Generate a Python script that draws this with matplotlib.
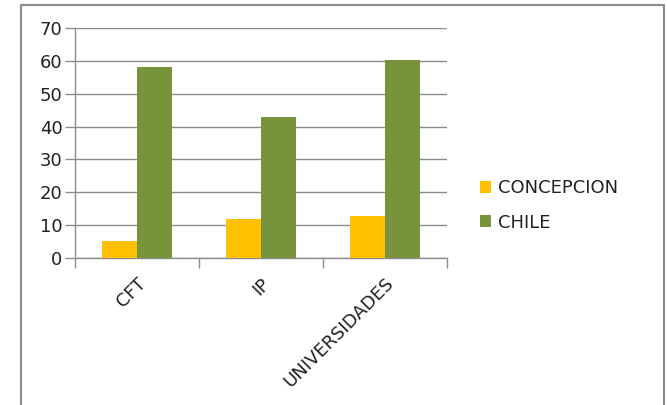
import numpy as np
import matplotlib
matplotlib.use('Agg')
import matplotlib.pyplot as plt
from matplotlib.lines import Line2D

categories = ['CFT', 'IP', 'UNIVERSIDADES']
concepcion = [5.3, 11.8, 12.8]
chile = [58.1, 42.8, 60.2]
series_names = ['CONCEPCION', 'CHILE']

plt.rcParams['font.family'] = ['DejaVu Sans']

W, H = 667, 405
fig = plt.figure(figsize=(W / 100, H / 100), dpi=100)
fig.patch.set_facecolor('white')

# outer chart frame (bottom is cut off in the image)
frame_col = '#8c8c8c'
fx0, fx1, fy1 = 20.5 / W, 664 / W, 1 - 4.5 / H
fig.add_artist(Line2D([fx0, fx0, fx1, fx1], [0, fy1, fy1, 0],
                      transform=fig.transFigure, color=frame_col, lw=1.5))

ax = fig.add_axes([75 / W, 1 - 258 / H, (447 - 75) / W, (258 - 28) / H])

x = np.arange(len(categories))
bw = 1 / 3.5
ax.bar(x - bw / 2, concepcion, bw, color='#FFC000', label=series_names[0], zorder=3)
ax.bar(x + bw / 2, chile, bw, color='#77933C', label=series_names[1], zorder=3)

ax.set_xlim(-0.5, 2.5)
ax.set_ylim(0, 70)
ax.set_yticks(range(0, 71, 10))
ax.yaxis.grid(True, color='#8c8c8c', lw=1, zorder=0)

fs = 13
ax.set_xticks([-0.5, 0.5, 1.5, 2.5])
ax.set_xticklabels([])
ax.tick_params(axis='x', length=7, width=1, color='#8c8c8c', direction='out')
ax.tick_params(axis='y', length=7, width=1, color='#8c8c8c', direction='out',
               labelsize=fs, labelcolor='#222222', pad=2)

for s in ['top', 'right']:
    ax.spines[s].set_visible(False)
for s in ['left', 'bottom']:
    ax.spines[s].set_color('#8c8c8c')
    ax.spines[s].set_linewidth(1)

for i, c in enumerate(categories):
    ax.text(i + 0.0, -5.0, c, rotation=45, ha='right', va='top',
            rotation_mode='anchor', fontsize=fs, color='#222222')

ax.legend(loc='center left', bbox_to_anchor=(480 / W, 1 - 205.5 / H),
          bbox_transform=fig.transFigure, frameon=False, borderpad=0,
          borderaxespad=0, fontsize=fs, handlelength=0.62, handleheight=0.62,
          labelspacing=0.9, handletextpad=0.4, labelcolor='#222222')

fig.savefig('out.png', dpi=100)
